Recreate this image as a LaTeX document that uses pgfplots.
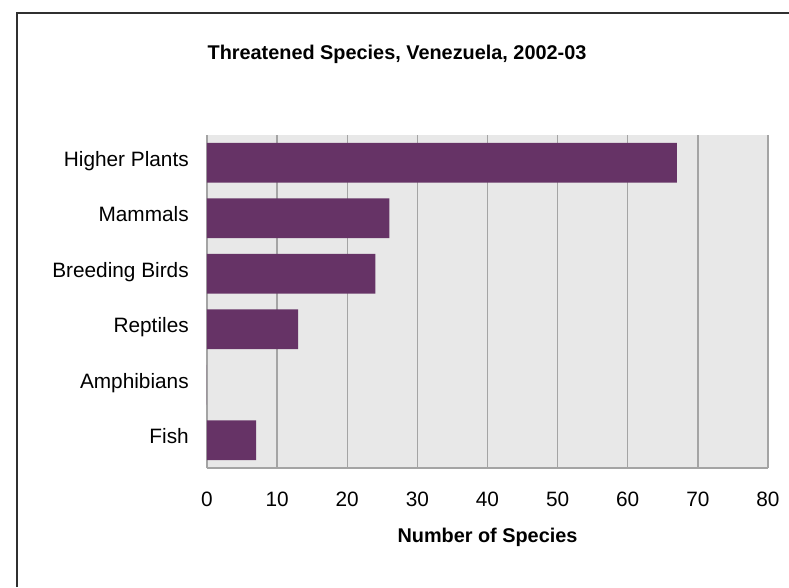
\documentclass[border=0pt]{standalone}
\usepackage{fontspec}
\setmainfont{Liberation Sans}
\usepackage{pgfplots}
\pgfplotsset{compat=1.18}

\definecolor{barpurple}{HTML}{663366}
\definecolor{plotbg}{HTML}{E8E8E8}
\definecolor{gridgray}{HTML}{A4A4A4}
\definecolor{framegray}{HTML}{303030}

% 1 px of the reference = 0.75pt; picture is 789 x 587 px
\begin{document}
\begin{tikzpicture}
    \useasboundingbox (0pt,0pt) rectangle (591.75pt,440.25pt);
    % outer frame (only top and left edges are visible)
    \draw[framegray, line width=1.3pt] (12.75pt,0pt) -- (12.75pt,430.5pt) -- (591.75pt,430.5pt);
    \begin{axis}[
            at={(155.25pt,89.25pt)}, anchor=south west,
            scale only axis,
            width=420.75pt, height=249.75pt,
            xbar, bar width=0.72,
            xmin=0, xmax=80,
            ymin=-0.5, ymax=5.5,
            xtick={0,10,...,80},
            ytick={0,1,2,3,4,5},
            yticklabels={Fish, Amphibians, Reptiles, Breeding Birds, Mammals, Higher Plants},
            major tick length=0pt,
            axis background/.style={fill=plotbg},
            axis x line*=bottom, axis y line*=left,
            axis line style={gridgray, line width=1pt},
            xmajorgrids,
            major grid style={gridgray, line width=1pt},
            /pgf/number format/assume math mode=true,
            tick label style={font=\fontsize{15.6}{18}\selectfont, inner sep=0pt},
            xticklabel style={anchor=base, yshift=-28.5pt},
            yticklabel style={anchor=mid east, xshift=-13.5pt},
            every axis title shift=0pt,
            title={Threatened Species, Venezuela, 2002-03},
            title style={font=\bfseries\fontsize{14.9}{17}\selectfont, inner sep=0pt,
                at={(axis description cs:0.3387,1.2282)}, anchor=base},
            xlabel={Number of Species},
            xlabel style={font=\bfseries\fontsize{14.9}{17}\selectfont, inner sep=0pt,
                at={(axis description cs:0.5,-0.2252)}, anchor=base},
        ]
        \addplot[fill=barpurple, draw=none] coordinates {
                (7,0) (0,1) (13,2) (24,3) (26,4) (67,5)
            };
    \end{axis}
\end{tikzpicture}
\end{document}
